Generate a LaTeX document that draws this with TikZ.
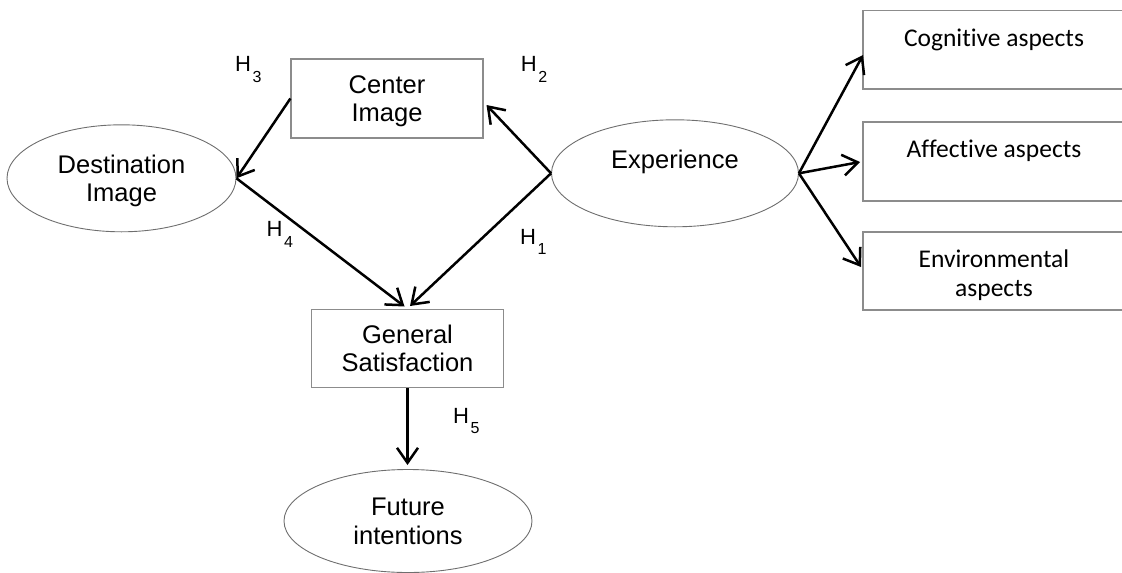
\documentclass[tikz,border=0pt]{standalone}
\usepackage{fontspec}
\setmainfont{Liberation Sans}
\newfontfamily\calib{Carlito}[Ligatures=NoCommon]
\usetikzlibrary{arrows.meta,shapes.geometric}
\definecolor{boxgray}{RGB}{140,140,140}
\definecolor{ellgray}{RGB}{110,110,110}
\newcommand\hlab[1]{H\hspace{1.5pt}\raisebox{-10.5pt}{\fontsize{16}{16}\selectfont #1}}
\begin{document}
\begin{tikzpicture}[x=1pt,y=-1pt,
  box/.style={draw=boxgray, line width=1.2pt, rectangle, inner sep=0pt},
  ell/.style={draw=ellgray, line width=0.9pt, ellipse, inner sep=0pt},
  txt/.style={font=\fontsize{25.5}{28.5}\selectfont, align=center, text depth=0pt},
  rtxt/.style={font=\calib\fontsize{25.5}{28.5}\selectfont, align=center, inner sep=0pt},
  hl/.style={font=\fontsize{22}{22}\selectfont, anchor=base west, inner sep=0pt},
  arr/.style={line width=2.5pt, -{Straight Barb[length=15pt,width=21pt]}}]
\useasboundingbox (0,0) rectangle (1122,573);
% shapes
\node[box, txt, minimum width=192, minimum height=79] (cimg) at (387,98.5) {Center\\Image};
\node[ell, txt, minimum width=229, minimum height=107] (dest) at (121.5,178.3) {Destination\\Image};
\node[ell, minimum width=247, minimum height=107] (exp) at (675,173.3) {};
\node[txt, anchor=base, inner sep=0pt] (expt) at (675,168) {Experience};
\node[box, txt, minimum width=191.5, minimum height=78.5] (gs) at (407.5,348.5) {General\\Satisfaction};
\node[ell, txt, minimum width=248, minimum height=103] (fut) at (408,521) {Future\\intentions};
\node[box, minimum width=262, minimum height=78.3] (cog) at (994,49.85) {};
\node[box, minimum width=262, minimum height=79] (aff) at (994,161.5) {};
\node[box, minimum width=262, minimum height=78] (env) at (994,271) {};
\node[rtxt, anchor=base] (cogt) at (994,46) {Cognitive aspects};
\node[rtxt, anchor=base] (afft) at (994,157) {Affective aspects};
\node[rtxt] (envt) at (994,275) {Environmental\\aspects};
% hypothesis labels
\node[hl] (h3) at (235,71.7) {\hlab{3}};
\node[hl] (h2) at (520.7,71.7) {\hlab{2}};
\node[hl] (h4) at (266.5,236.7) {\hlab{4}};
\node[hl] (h1) at (520,244) {\hlab{1}};
\node[hl] (h5) at (453,423.3) {\hlab{5}};
% arrow end points
\coordinate (t2) at (486.5,105);
\coordinate (t4) at (404.5,306.5);
\coordinate (t1) at (410,306);
\coordinate (t5) at (407.5,465);
\coordinate (tc) at (863,55);
\coordinate (ta) at (860,162);
\coordinate (te) at (861,267);
% connectors
\draw[arr] (exp.west) -- (t2);
\draw[arr] (cimg.west) -- (dest.east);
\draw[arr] (dest.east) -- (t4);
\draw[arr] (exp.west) -- (t1);
\draw[arr] (gs.south) -- (t5);
\draw[arr] (exp.east) -- (tc);
\draw[arr] (exp.east) -- (ta);
\draw[arr] (exp.east) -- (te);
\end{tikzpicture}
\end{document}
